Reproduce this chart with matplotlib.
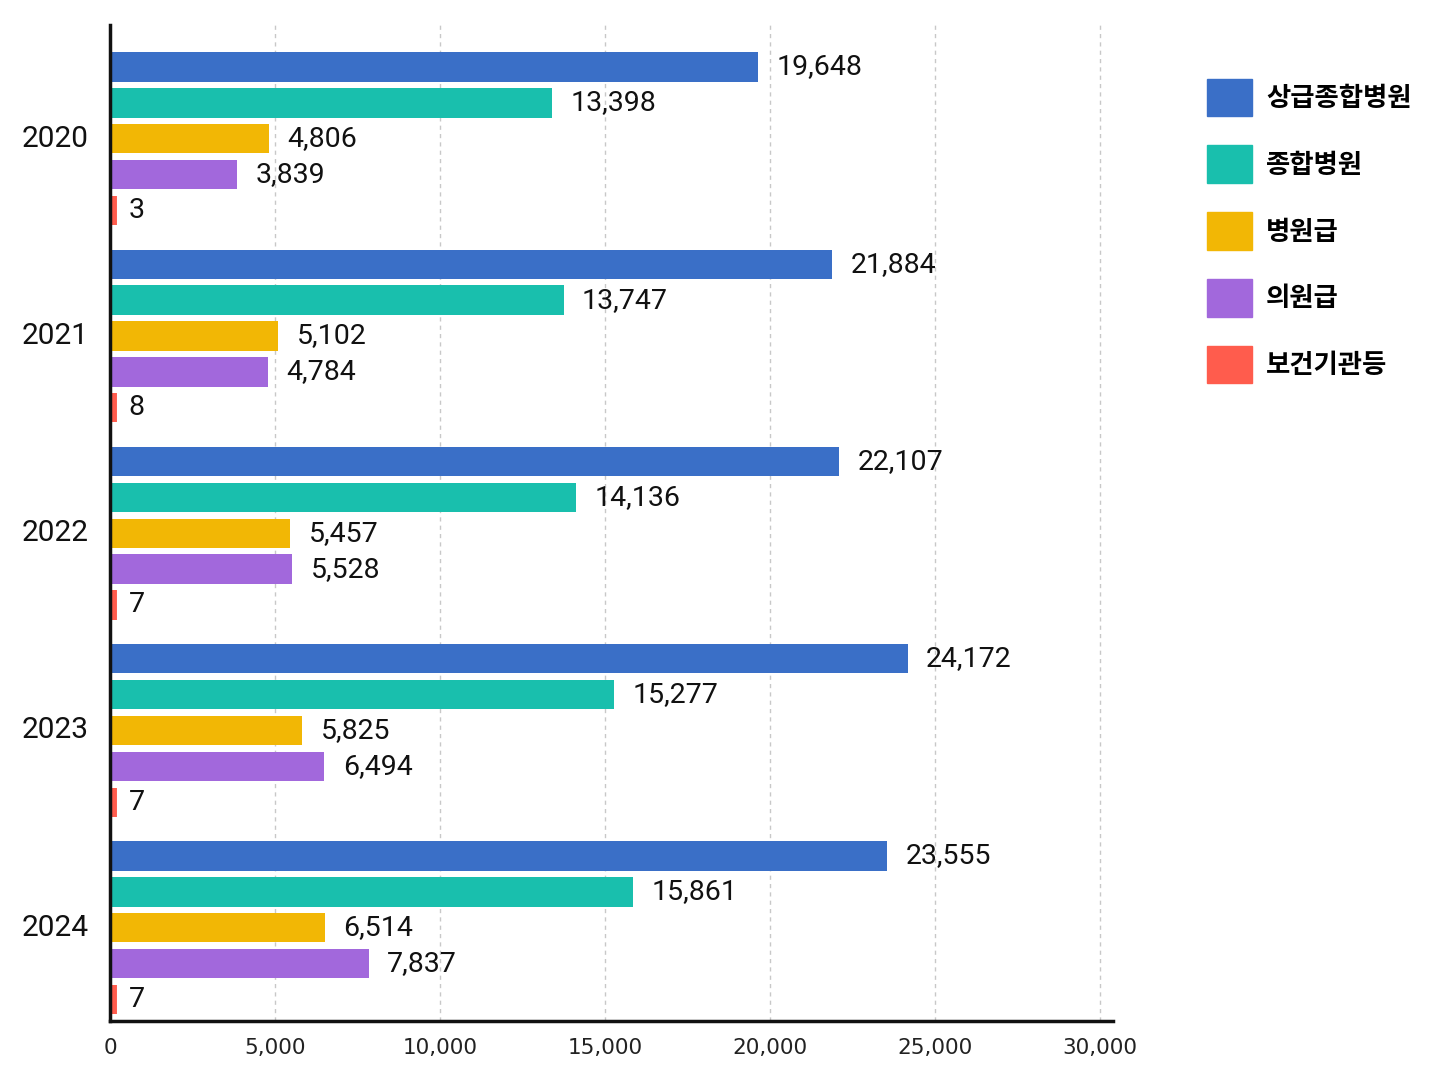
import matplotlib
matplotlib.use("Agg")
import matplotlib.pyplot as plt
from matplotlib.patches import Patch
import numpy as np

plt.rcParams['font.family'] = ['Roboto', 'Noto Sans CJK KR', 'DejaVu Sans']

years = ["2020", "2021", "2022", "2023", "2024"]
categories = ["상급종합병원", "종합병원", "병원급", "의원급", "보건기관등"]
s_tertiary = [19648, 21884, 22107, 24172, 23555]
s_general = [13398, 13747, 14136, 15277, 15861]
s_hospital = [4806, 5102, 5457, 5825, 6514]
s_clinic = [3839, 4784, 5528, 6494, 7837]
s_public = [3, 8, 7, 7, 7]
series = [s_tertiary, s_general, s_hospital, s_clinic, s_public]
colors = ["#3A6FC7", "#19BFAD", "#F2B705", "#A268DC", "#FF5C4D"]
xticks = [0, 5000, 10000, 15000, 20000, 25000, 30000]

fig = plt.figure(figsize=(14.48, 10.86), dpi=100)
ax = fig.add_axes([110/1448, 1-1021/1086, (1113-110)/1448, (1021-25)/1086])

group_pitch = 5.5
bar_h = 0.82
for gi, yr in enumerate(years):
    for si, s in enumerate(series):
        y = gi*group_pitch + si
        v = s[gi]
        ax.barh(y, v, height=bar_h, color=colors[si], edgecolor=colors[si],
                linewidth=10 if v < 100 else 0, zorder=2)
        ax.text(v + 560, y, f"{v:,}", va='center', ha='left', fontsize=20.5,
                color='#111111', family='Roboto')
    ax.text(-650, gi*group_pitch + 2, yr, va='center', ha='right', fontsize=21.5,
            color='#111111', family='Roboto')

ax.set_xlim(0, 30400)
ax.set_ylim(4*group_pitch + 4 + 0.6, -1.17)
ax.set_yticks([])
ax.set_xticks(xticks)
ax.set_xticklabels([f"{t:,}" for t in xticks], family=['Liberation Sans Narrow', 'DejaVu Sans'],
                   fontsize=15.5, color='#222222')
ax.tick_params(axis='x', length=0, pad=12)
ax.grid(axis='x', linestyle=(0, (3, 3)), color='#C8C8C8', linewidth=1)
ax.set_axisbelow(True)
for sp in ['top', 'right']:
    ax.spines[sp].set_visible(False)
for sp in ['left', 'bottom']:
    ax.spines[sp].set_linewidth(2.5)
    ax.spines[sp].set_color('#111111')
    ax.spines[sp].set_zorder(3)

handles = [Patch(facecolor=c, edgecolor=c) for c in colors]
leg = fig.legend(handles, categories, loc='upper left', bbox_to_anchor=(1183/1448, 1-55/1086),
                 frameon=False, prop={'family': ['Noto Sans CJK KR', 'DejaVu Sans'], 'size': 19, 'weight': 'semibold'},
                 handlelength=1.7, handleheight=1.82, labelspacing=1.1, handletextpad=0.55)

fig.savefig("out.png", dpi=100, facecolor='white')
